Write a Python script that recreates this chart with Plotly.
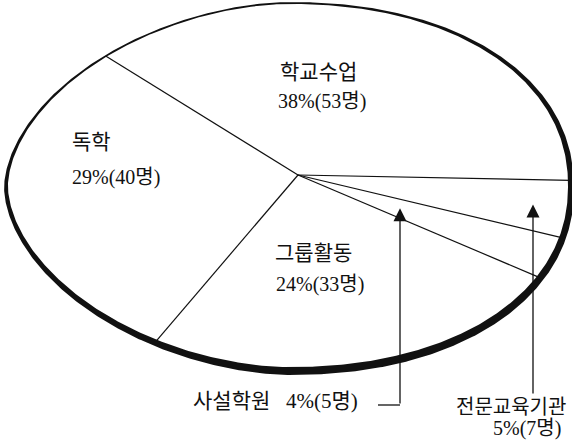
import numpy as np
import plotly.graph_objects as go

categories = ["전문교육기관", "학교수업", "독학", "그룹활동", "사설학원"]
counts = [7, 53, 40, 33, 5]
percents = [5, 38, 29, 24, 4]

W, H = 572, 445
# flattened disc drawn in pixel-like units (y axis points down)
CX, CY = 289, 187          # centre of the rim
A_L, A_R, B = 283, 282, 184
P_L, P_R = 1.8, 2.15       # left side a bit pointier than the right
PX, PY = 298, 175          # point where the slices meet
START = -20                # first slice starts here, going anticlockwise


def rim(t, grow=0.0):
    c, s = np.cos(t), np.sin(t)
    a = np.where(c < 0, A_L, A_R) + grow
    p = np.where(c < 0, P_L, P_R)
    x = CX + a * np.sign(c) * np.abs(c) ** (2 / p)
    y = CY - (B + grow) * np.sign(s) * np.abs(s) ** (2 / p)
    return x, y


def inside(x, y):
    dx = x - CX
    a, p = (A_L, P_L) if dx < 0 else (A_R, P_R)
    return abs(dx / a) ** p + abs((y - CY) / B) ** p < 1


def edge_point(phi):
    # walk from the meeting point along the slice edge until the rim
    ux, uy = np.cos(phi) * A_R, -np.sin(phi) * B
    lo, hi = 0.0, 2.0
    for _ in range(40):
        mid = (lo + hi) / 2
        if inside(PX + mid * ux, PY + mid * uy):
            lo = mid
        else:
            hi = mid
    return PX + lo * ux, PY + lo * uy


total = sum(counts)
bounds = np.deg2rad(START + 360 * np.concatenate([[0], np.cumsum(counts)]) / total)
mids = (bounds[:-1] + bounds[1:]) / 2

fig = go.Figure()

# rim: thin at the top left, heavy towards the bottom right
t = np.linspace(0, 2 * np.pi, 721)
thick = 1.8 + 6.2 * (1 + np.cos(t - np.deg2rad(-70))) / 2
xo, yo = rim(t, thick / 2)
xi, yi = rim(t, -thick / 2)
fig.add_scatter(
    x=np.concatenate([xo, xi[::-1]]), y=np.concatenate([yo, yi[::-1]]),
    mode="lines", fill="toself", fillcolor="#111", line=dict(width=0),
    hoverinfo="skip",
)

# slice edges
lx, ly = [], []
for b in bounds[:-1]:
    ex, ey = edge_point(b)
    lx += [PX, ex, None]
    ly += [PY, ey, None]
fig.add_scatter(x=lx, y=ly, mode="lines", line=dict(color="#111", width=1.2),
                hoverinfo="skip")

font = dict(family="Liberation Serif, Noto Sans CJK KR", size=20, color="#111")
label = {c: f"{p}%({n}명)" for c, p, n in zip(categories, percents, counts)}


def text(x, y, s, anchor="center", size=20):
    fig.add_annotation(x=x, y=y, text=s, showarrow=False, xanchor=anchor,
                       yanchor="middle", font=dict(font, size=size))


text(318, 72, "학교수업", size=21)
text(322, 101, label["학교수업"])
text(70, 142, "독학", "left", 21)
text(70, 177, label["독학"], "left")
text(313, 253, "그룹활동", size=21)
text(320, 284, label["그룹활동"])
text(191, 401, "사설학원\u00a0\u00a0\u00a0" + label["사설학원"], "left", 21)
text(511, 407, "전문교육기관")
text(527, 428, label["전문교육기관"])


def tip_y(phi, x):
    r = (x - PX) / (np.cos(phi) * A_R)
    return PY - r * np.sin(phi) * B


# pointer arrows for the two thin slices
for name, ax, tail in [("사설학원", 400, 405), ("전문교육기관", 533, 395)]:
    i = categories.index(name)
    fig.add_annotation(
        x=ax, y=tip_y(mids[i], ax), ax=ax, ay=tail, axref="x", ayref="y",
        text="", showarrow=True, arrowhead=2, arrowsize=2, arrowwidth=1.3,
        arrowcolor="#111",
    )
fig.add_scatter(x=[378, 400], y=[405, 405], mode="lines",
                line=dict(color="#111", width=1.3), hoverinfo="skip")

fig.update_layout(
    width=W, height=H, margin=dict(l=0, r=0, t=0, b=0),
    paper_bgcolor="white", plot_bgcolor="white", showlegend=False,
)
fig.update_xaxes(range=[0, W], visible=False)
fig.update_yaxes(range=[H, 0], visible=False)

fig.write_html("out.html", config={"displayModeBar": False},
               post_script="document.body.style.margin='0';")
